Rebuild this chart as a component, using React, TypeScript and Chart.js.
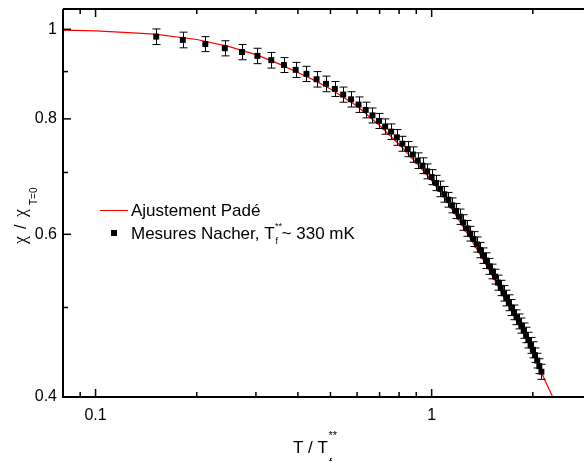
import React, { useEffect, useRef } from "react";
import { Chart, registerables } from "chart.js";

Chart.register(...registerables);

// Measured points: T / T_f** (T_f** ~ 330 mK, one point every 10 mK)
const tempRatio = [
  0.1515, 0.1818, 0.2121, 0.2424, 0.2727, 0.303, 0.3333, 0.3636, 0.3939, 0.4242,
  0.4545, 0.4848, 0.5152, 0.5455, 0.5758, 0.6061, 0.6364, 0.6667, 0.697, 0.7273,
  0.7576, 0.7879, 0.8182, 0.8485, 0.8788, 0.9091, 0.9394, 0.9697, 1.0, 1.0303,
  1.0606, 1.0909, 1.1212, 1.1515, 1.1818, 1.2121, 1.2424, 1.2727, 1.303, 1.3333,
  1.3636, 1.3939, 1.4242, 1.4545, 1.4848, 1.5152, 1.5455, 1.5758, 1.6061, 1.6364,
  1.6667, 1.697, 1.7273, 1.7576, 1.7879, 1.8182, 1.8485, 1.8788, 1.9091, 1.9394,
  1.9697, 2.0, 2.0303, 2.0606, 2.0909, 2.1212,
];
const chiMeasured = [
  0.982, 0.974, 0.964, 0.954, 0.945, 0.936, 0.926, 0.915, 0.904, 0.895,
  0.883, 0.873, 0.862, 0.85, 0.84, 0.829, 0.818, 0.807, 0.796, 0.785,
  0.775, 0.764, 0.752, 0.742, 0.732, 0.721, 0.712, 0.702, 0.692, 0.682,
  0.672, 0.663, 0.654, 0.645, 0.636, 0.627, 0.618, 0.609, 0.601, 0.593,
  0.585, 0.577, 0.569, 0.562, 0.554, 0.547, 0.54, 0.532, 0.525, 0.518,
  0.512, 0.506, 0.5, 0.494, 0.488, 0.483, 0.478, 0.472, 0.467, 0.461,
  0.455, 0.45, 0.444, 0.438, 0.432, 0.426,
];
const chiError = [
  0.019, 0.019, 0.018, 0.018, 0.018, 0.018, 0.018, 0.017, 0.017, 0.017,
  0.017, 0.017, 0.016, 0.016, 0.016, 0.016, 0.016, 0.015, 0.015, 0.015,
  0.015, 0.015, 0.014, 0.014, 0.014, 0.014, 0.014, 0.013, 0.013, 0.013,
  0.013, 0.013, 0.012, 0.012, 0.012, 0.012, 0.012, 0.012, 0.011, 0.011,
  0.011, 0.011, 0.011, 0.011, 0.011, 0.01, 0.01, 0.01, 0.01, 0.01,
  0.01, 0.01, 0.01, 0.009, 0.009, 0.009, 0.009, 0.009, 0.009, 0.009,
  0.009, 0.009, 0.008, 0.008, 0.008, 0.008,
];

// Padé fit curve
const fitT = [
  0.08, 0.1, 0.125, 0.15, 0.2, 0.25, 0.3, 0.35, 0.4, 0.45, 0.5, 0.6, 0.7, 0.8, 0.9,
  1.0, 1.1, 1.2, 1.3, 1.4, 1.5, 1.6, 1.7, 1.8, 1.9, 2.0, 2.1, 2.2, 2.3, 2.4,
];
const fitChi = [
  0.998, 0.996, 0.992, 0.988, 0.975, 0.958, 0.939, 0.918, 0.898, 0.88, 0.862, 0.826,
  0.787, 0.751, 0.717, 0.686, 0.655, 0.623, 0.595, 0.569, 0.545, 0.522, 0.501, 0.482,
  0.465, 0.449, 0.429, 0.413, 0.399, 0.385,
];

// Axes
const xRange = [0.08, 2.84];
const yRange = [0.4, 1.052];
const xLabelTicks = [0.1, 1];
const xMinorTicks = [0.08, 0.09, 0.2, 0.3, 0.4, 0.5, 0.6, 0.7, 0.8, 0.9, 2];
const yLabelTicks = [0.4, 0.6, 0.8, 1];
const yMinorTicks = [0.5, 0.7, 0.9];

const FONT = "'Liberation Sans', Arial, sans-serif";
const GREEK = "'Liberation Serif', 'Times New Roman', serif";

const framePlugin = {
  id: "frameAndText",
  beforeDatasetDraw(chart: any, args: any) {
    if (args.index !== 1) return;
    const { ctx, chartArea, scales } = chart;
    const xs = scales.x;
    const ys = scales.y;
    ctx.save();
    ctx.beginPath();
    ctx.rect(chartArea.left, chartArea.top, chartArea.right - chartArea.left, chartArea.bottom - chartArea.top);
    ctx.clip();
    ctx.strokeStyle = "#000";
    ctx.lineWidth = 1;
    const cap = 4;
    for (let i = 0; i < tempRatio.length; i++) {
      const px = Math.round(xs.getPixelForValue(tempRatio[i])) + 0.5;
      const yt = ys.getPixelForValue(chiMeasured[i] + chiError[i]);
      const yb = ys.getPixelForValue(chiMeasured[i] - chiError[i]);
      ctx.beginPath();
      ctx.moveTo(px, yt);
      ctx.lineTo(px, yb);
      ctx.moveTo(px - cap, yt);
      ctx.lineTo(px + cap, yt);
      ctx.moveTo(px - cap, yb);
      ctx.lineTo(px + cap, yb);
      ctx.stroke();
    }
    ctx.restore();
  },
  afterDraw(chart: any) {
    const { ctx, chartArea, scales } = chart;
    const xs = scales.x;
    const ys = scales.y;
    const { left, right, top, bottom } = chartArea;
    ctx.save();
    ctx.strokeStyle = "#000";
    // frame
    ctx.lineWidth = 2;
    ctx.beginPath();
    ctx.moveTo(left, top);
    ctx.lineTo(left, bottom);
    ctx.lineTo(right, bottom);
    ctx.moveTo(left, top);
    ctx.lineTo(right, top);
    ctx.stroke();
    // ticks (inward)
    ctx.lineWidth = 1.5;
    const drawX = (v: number, len: number) => {
      const p = xs.getPixelForValue(v);
      ctx.beginPath();
      ctx.moveTo(p, bottom);
      ctx.lineTo(p, bottom - len);
      ctx.moveTo(p, top);
      ctx.lineTo(p, top + len);
      ctx.stroke();
    };
    const drawY = (v: number, len: number) => {
      const p = ys.getPixelForValue(v);
      ctx.beginPath();
      ctx.moveTo(left, p);
      ctx.lineTo(left + len, p);
      ctx.stroke();
    };
    xLabelTicks.forEach((v) => drawX(v, 8));
    xMinorTicks.forEach((v) => drawX(v, 5));
    yLabelTicks.forEach((v) => drawY(v, 8));
    yMinorTicks.forEach((v) => drawY(v, 5));

    ctx.fillStyle = "#000";
    ctx.textBaseline = "alphabetic";
    ctx.textAlign = "left";

    // x title: T / T_f^**
    ctx.font = `17px ${FONT}`;
    const xt = "T / T";
    const xStart = 293;
    ctx.fillText(xt, xStart, 453);
    const xEnd = xStart + ctx.measureText(xt).width;
    ctx.font = `11px ${FONT}`;
    ctx.fillText("**", xEnd + 0.5, 439);
    ctx.fillText("f", xEnd + 1, 466);

    // y title: χ / χ_{T=0}, rotated
    ctx.save();
    ctx.translate(25.5, 244);
    ctx.rotate(-Math.PI / 2);
    ctx.font = `18px ${GREEK}`;
    ctx.fillText("χ", 0, 0);
    ctx.font = `16px ${FONT}`;
    ctx.fillText("/", 15, 0);
    ctx.font = `18px ${GREEK}`;
    ctx.fillText("χ", 27, 0);
    ctx.font = `10px ${FONT}`;
    ctx.fillText("T=0", 39, 11);
    ctx.restore();

    // legend
    ctx.strokeStyle = "#ff0000";
    ctx.lineWidth = 1;
    ctx.beginPath();
    ctx.moveTo(100, 210.5);
    ctx.lineTo(128, 210.5);
    ctx.stroke();
    ctx.fillRect(111, 230, 6, 6);
    ctx.font = `17px ${FONT}`;
    ctx.fillText("Ajustement Padé", 131, 216);
    const m1 = "Mesures Nacher, T";
    ctx.fillText(m1, 131, 239);
    const mEnd = 131 + ctx.measureText(m1).width;
    ctx.font = `9px ${FONT}`;
    ctx.fillText("**", mEnd + 0.5, 229);
    ctx.fillText("f", mEnd + 1, 244);
    ctx.font = `17px ${FONT}`;
    ctx.fillText("~ 330 mK", mEnd + 7, 239);
    ctx.restore();
  },
};

export default function App() {
  const ref = useRef<HTMLCanvasElement | null>(null);
  useEffect(() => {
    if (!ref.current) return;
    const chart = new Chart(ref.current, {
      type: "scatter",
      data: {
        datasets: [
          {
            label: "Ajustement Padé",
            data: fitT.map((t, i) => ({ x: t, y: fitChi[i] })),
            showLine: true,
            borderColor: "#ff0000",
            borderWidth: 1.2,
            pointRadius: 0,
            fill: false,
            order: 1,
          },
          {
            label: "Mesures Nacher",
            data: tempRatio.map((t, i) => ({ x: t, y: chiMeasured[i] })),
            pointStyle: "rect",
            pointRadius: 4.2,
            backgroundColor: "#000",
            borderWidth: 0,
            order: 0,
          },
        ],
      },
      options: {
        responsive: false,
        animation: false,
        devicePixelRatio: 1,
        events: [],
        layout: { autoPadding: false, padding: { top: 9, right: 0, left: 0, bottom: 0 } },
        plugins: { legend: { display: false }, tooltip: { enabled: false } },
        scales: {
          x: {
            type: "logarithmic",
            min: xRange[0],
            max: xRange[1],
            position: "bottom",
            grid: { display: false, drawTicks: false },
            border: { display: false },
            afterBuildTicks: (s: any) => {
              s.ticks = xLabelTicks.map((v) => ({ value: v }));
            },
            afterFit: (s: any) => {
              s.height = 64;
              s.paddingLeft = 0;
              s.paddingRight = 0;
              s.paddingTop = 0;
              s.paddingBottom = 0;
            },
            ticks: {
              autoSkip: false,
              maxRotation: 0,
              padding: 9,
              color: "#000",
              font: { family: FONT, size: 16 },
              callback: (v: any) => String(v),
            },
          },
          y: {
            type: "logarithmic",
            min: yRange[0],
            max: yRange[1],
            position: "left",
            grid: { display: false, drawTicks: false },
            border: { display: false },
            afterBuildTicks: (s: any) => {
              s.ticks = yLabelTicks.map((v) => ({ value: v }));
            },
            afterFit: (s: any) => {
              s.width = 63;
              s.paddingLeft = 0;
              s.paddingRight = 0;
              s.paddingTop = 0;
              s.paddingBottom = 0;
            },
            ticks: {
              autoSkip: false,
              padding: 6,
              color: "#000",
              font: { family: FONT, size: 16 },
              callback: (v: any) => String(v),
            },
          },
        },
      },
      plugins: [framePlugin],
    } as any);
    return () => chart.destroy();
  }, []);
  return (
    <div style={{ position: "fixed", left: 0, top: 0, width: 584, height: 461, background: "#fff" }}>
      <canvas ref={ref} width={584} height={461} style={{ display: "block" }} />
    </div>
  );
}
